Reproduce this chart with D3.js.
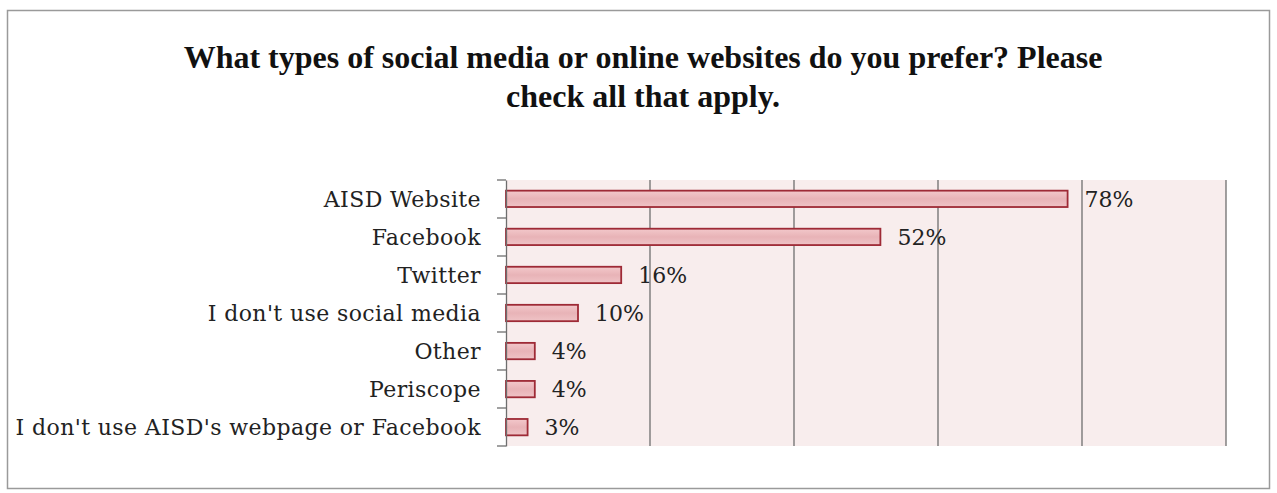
<!DOCTYPE html>
<html><head><meta charset="utf-8">
<script src="https://cdn.jsdelivr.net/npm/d3@7"></script>
<style>body{margin:0;background:#fff;} svg{display:block;}</style>
</head><body>
<svg id="c" width="1277" height="493"></svg>
<script>
const categories = ["AISD Website","Facebook","Twitter","I don't use social media","Other","Periscope","I don't use AISD's webpage or Facebook"];
const values = [78,52,16,10,4,4,3];
const valueLabels = ["78%","52%","16%","10%","4%","4%","3%"];
const tickValues = [0,20,40,60,80,100];
const titleLines = ["What types of social media or online websites do you prefer? Please","check all that apply."];

const svg = d3.select("#c");
const W=1277,H=493;
const m={left:506,right:51,top:180,bottom:47};
const x=d3.scaleLinear().domain([0,100]).range([m.left,W-m.right]);
const y=d3.scaleBand().domain(categories).range([m.top,H-m.bottom]).paddingInner(0.57).paddingOuter(0.28);
const yb=d3.scaleBand().domain(categories).range([m.top,H-m.bottom]);

const defs=svg.append("defs");
const g=defs.append("linearGradient").attr("id","bg").attr("x1",0).attr("x2",0).attr("y1",0).attr("y2",1);
g.append("stop").attr("offset","0%").attr("stop-color","#f3c8cb");
g.append("stop").attr("offset","50%").attr("stop-color","#e8b3b7");
g.append("stop").attr("offset","100%").attr("stop-color","#efc3c6");

// outer frame
svg.append("rect").attr("x",7.5).attr("y",10.5).attr("width",1262).attr("height",478).attr("fill","#fff").attr("stroke","#9a9a9a").attr("stroke-width",1.5);

// plot bg
svg.append("rect").attr("x",x(0)).attr("y",m.top).attr("width",x(100)-x(0)).attr("height",H-m.bottom-m.top).attr("fill","#f8eded");

// gridlines
svg.append("g").selectAll("line").data(tickValues.slice(1)).join("line")
 .attr("x1",d=>x(d)).attr("x2",d=>x(d)).attr("y1",m.top).attr("y2",H-m.bottom)
 .attr("stroke","#6e6e6e").attr("stroke-width",1.3);

// bars
svg.append("g").selectAll("rect").data(values).join("rect")
 .attr("x",x(0)).attr("y",(d,i)=>y(categories[i])).attr("width",d=>x(d)-x(0)).attr("height",y.bandwidth())
 .attr("fill","url(#bg)").attr("stroke","#9e2a36").attr("stroke-width",1.8);

// value labels
svg.append("g").selectAll("text").data(values).join("text")
 .attr("x",d=>x(d)+17).attr("y",(d,i)=>y(categories[i])+y.bandwidth()/2).attr("dy","0.36em")
 .attr("font-family","'DejaVu Serif', serif").attr("font-size",22).attr("fill","#222")
 .text((d,i)=>valueLabels[i]);

// y axis
const ax=svg.append("g").attr("transform",`translate(${x(0)},0)`)
 .call(d3.axisLeft(yb).tickSize(0).tickPadding(25));
ax.select(".domain").attr("stroke","#6e6e6e").attr("stroke-width",1.3);
ax.selectAll("text").attr("font-family","'DejaVu Serif', serif").attr("font-size",22).attr("letter-spacing","0.4px").attr("fill","#222").attr("dy","0.36em");
// category boundary ticks
svg.append("g").selectAll("line").data(d3.range(categories.length+1)).join("line")
 .attr("x1",x(0)-9).attr("x2",x(0)).attr("y1",i=>m.top+i*yb.step()).attr("y2",i=>m.top+i*yb.step())
 .attr("stroke","#6e6e6e").attr("stroke-width",1.3);

// title
svg.append("g").selectAll("text").data(titleLines).join("text")
 .attr("x",643).attr("y",(d,i)=>68+i*39).attr("text-anchor","middle")
 .attr("font-family","'Liberation Serif', serif").attr("font-weight","bold").attr("font-size",32).attr("fill","#111")
 .text(d=>d);
</script>
</body></html>
